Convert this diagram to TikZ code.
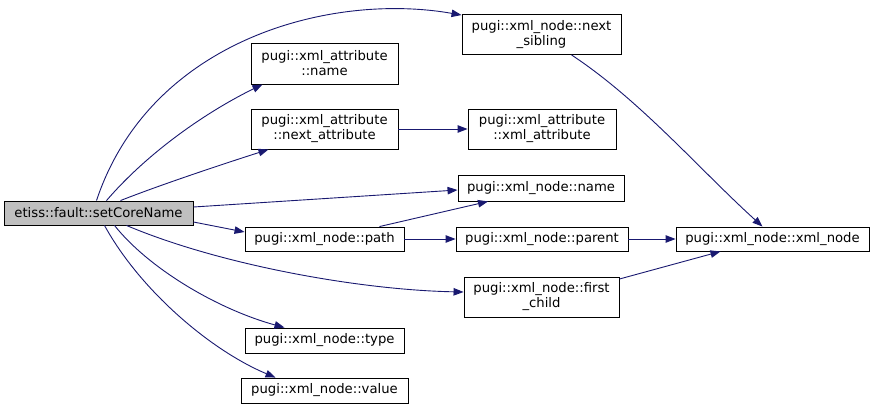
\documentclass[tikz,border=0pt]{standalone}
\usepackage{fontspec}
\setmainfont{DejaVu Sans}
\usetikzlibrary{arrows.meta}
\definecolor{edgeblue}{HTML}{191970}
\definecolor{rootgray}{HTML}{BFBFBF}
\begin{document}
\begin{tikzpicture}[x=1pt,y=-1pt,
  box/.style={draw=black, line width=0.9pt, fill=white, inner sep=0pt, align=center,
    font=\fontsize{13.2}{15}\selectfont},
  edge/.style={draw=edgeblue, line width=0.9pt, -{Triangle[length=10pt,width=7.5pt]}}]
\useasboundingbox (0,0) rectangle (876,410);
\node[box, fill=rootgray, minimum width=189pt, minimum height=24pt] (root) at (98.5,213) {etiss::fault::setCoreName};
\node[box, minimum width=159pt, minimum height=40pt] (nsib) at (541.5,34.5) {pugi::xml\_node::next\\\_sibling};
\node[box, minimum width=147pt, minimum height=41pt] (aname) at (324.5,63.5) {pugi::xml\_attribute\\::name};
\node[box, minimum width=147pt, minimum height=40pt] (nattr) at (324.5,129) {pugi::xml\_attribute\\::next\_attribute};
\node[box, minimum width=148pt, minimum height=40pt] (xattr) at (542,129) {pugi::xml\_attribute\\::xml\_attribute};
\node[box, minimum width=166pt, minimum height=26pt] (nname) at (541,188) {pugi::xml\_node::name};
\node[box, minimum width=159pt, minimum height=24pt] (path) at (324.5,239) {pugi::xml\_node::path};
\node[box, minimum width=172pt, minimum height=24pt] (parent) at (542,239) {pugi::xml\_node::parent};
\node[box, minimum width=155pt, minimum height=40pt] (fchild) at (541.5,297) {pugi::xml\_node::first\\\_child};
\node[box, minimum width=159pt, minimum height=25pt] (type) at (324.5,340.5) {pugi::xml\_node::type};
\node[box, minimum width=167pt, minimum height=25pt] (value) at (324.5,390.5) {pugi::xml\_node::value};
\node[box, minimum width=193pt, minimum height=24pt] (xnode) at (772.5,239) {pugi::xml\_node::xml\_node};

\draw[edge] ([xshift=-2pt]root.north) .. controls (150,40) and (330,-8) .. ([yshift=-1pt]nsib.north west);
\draw[edge] ([xshift=8pt]root.north) .. controls (150,150) and (210,110) .. ([xshift=-62pt]aname.south);
\draw[edge] ([xshift=22pt]root.north) .. controls (160,185) and (220,165) .. ([xshift=-56pt]nattr.south);
\draw[edge] ([yshift=6pt]root.east) -- ([yshift=-2pt]nname.west);
\draw[edge] ([yshift=-9pt]root.east) -- ([yshift=7pt]path.west);
\draw[edge] ([xshift=28pt]root.south) .. controls (220,265) and (360,290) .. ([yshift=5pt]fchild.west);
\draw[edge] ([xshift=16pt]root.south) .. controls (150,270) and (220,310) .. ([xshift=-40pt]type.north);
\draw[edge] ([xshift=6pt]root.south) .. controls (140,290) and (210,350) .. ([xshift=-49pt]value.north);
\draw[edge] (nattr.east) -- (xattr.west);
\draw[edge] ([xshift=55pt]path.north) -- ([xshift=-53pt]nname.south);
\draw[edge] (path.east) -- (parent.west);
\draw[edge] (parent.east) -- (xnode.west);
\draw[edge] ([yshift=18pt]fchild.east) -- ([xshift=-52pt]xnode.south);
\draw[edge] ([xshift=30pt]nsib.south) .. controls (640,100) and (700,170) .. ([xshift=-10pt]xnode.north);
\end{tikzpicture}
\end{document}
